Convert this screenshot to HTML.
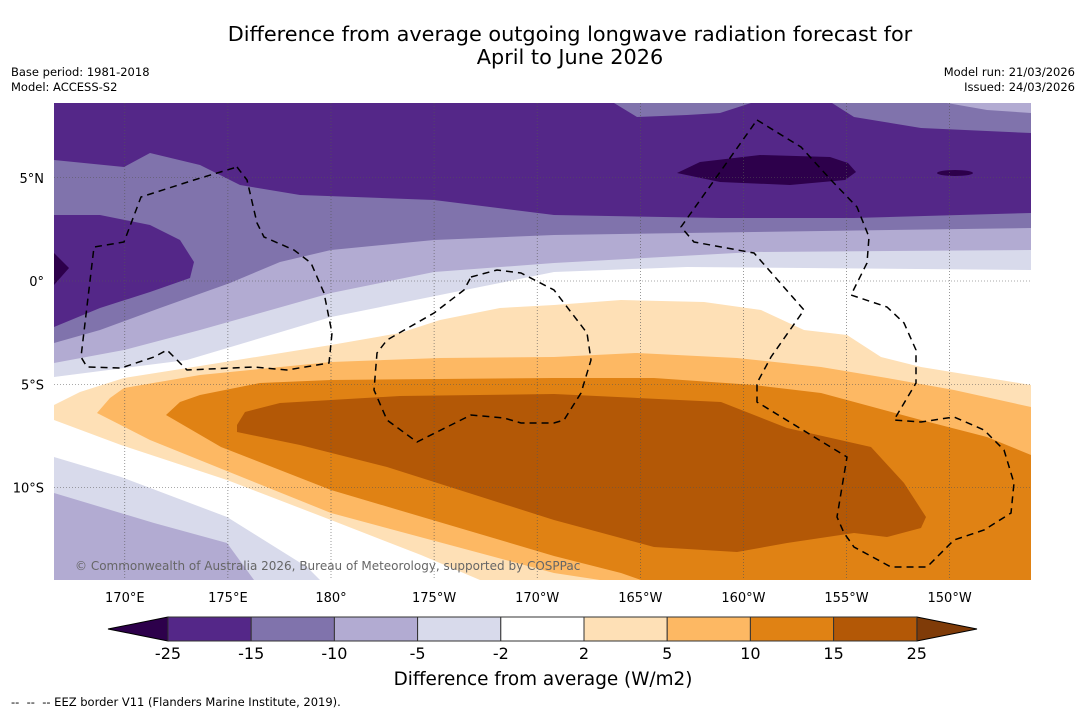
<!DOCTYPE html>
<html><head><meta charset="utf-8"><style>
body{margin:0;background:#fff;width:1085px;height:713px;overflow:hidden;font-family:"DejaVu Sans","Liberation Sans",sans-serif;}
svg{display:block}
</style></head><body>
<svg width="1085" height="713" xmlns="http://www.w3.org/2000/svg" font-family="DejaVu Sans, Liberation Sans, sans-serif">
<rect width="1085" height="713" fill="#fff"/>
<text x="570" y="41" font-size="20.8" text-anchor="middle">Difference from average outgoing longwave radiation forecast for</text>
<text x="570" y="64" font-size="20.8" text-anchor="middle">April to June 2026</text>
<text x="11" y="76" font-size="11.5">Base period: 1981-2018</text>
<text x="11" y="91" font-size="11.5">Model: ACCESS-S2</text>
<text x="1075" y="76" font-size="11.5" text-anchor="end">Model run: 21/03/2026</text>
<text x="1075" y="91" font-size="11.5" text-anchor="end">Issued: 24/03/2026</text>
<defs><clipPath id="mc"><rect x="54" y="103" width="977" height="477"/></clipPath></defs>
<g clip-path="url(#mc)">
<rect x="54" y="103" width="977" height="477" fill="#fff"/>
<polygon fill="#d8daeb" points="54,103 1031,103 1031,270 687,267 554,272 331,317 187,360 54,377"/>
<polygon fill="#b2abd2" points="54,103 1031,103 1031,250 754,252 554,263 434,272 331,293 200,330 124,350 54,363"/>
<polygon fill="#8073ac" points="54,103 1031,103 1031,228 754,232 554,235 434,240 331,250 280,262 230,283 160,308 100,330 54,343"/>
<polygon fill="#542788" points="54,103 1031,103 1031,213 854,218 721,218 554,215 434,200 300,195 240,185 200,165 150,153 124,167 54,160"/>
<polygon fill="#8073ac" points="614,103 751,103 720,113 687,115 637,117"/>
<polygon fill="#8073ac" points="832,103 1031,103 1031,133 921,128 854,117"/>
<polygon fill="#b2abd2" points="947,103 1031,103 1031,113 987,110"/>
<polygon fill="#542788" points="54,215 100,215 150,225 180,240 194,262 190,278 150,292 100,308 54,327"/>
<polygon fill="#2d004b" points="677,173 700,162 760,155 830,157 848,163 856,172 845,180 790,185 720,182"/>
<ellipse cx="955" cy="173" rx="18" ry="3" fill="#2d004b"/>
<polygon fill="#2d004b" points="54,253 69,268 54,285"/>
<polygon fill="#d8daeb" points="54,457 121,477 227,517 307,567 320,580 54,580"/>
<polygon fill="#b2abd2" points="54,493 154,523 227,543 254,580 54,580"/>
<polygon fill="#fee0b6" points="54,405 80,392 124,378 200,366 331,345 400,333 440,320 500,308 554,305 621,300 704,302 761,310 804,330 847,335 881,357 921,367 1031,385 1031,580 480,580 421,555 331,520 227,480 121,445 54,420"/>
<polygon fill="#fdb863" points="97,413 110,398 124,388 200,375 331,362 440,358 554,357 637,353 737,358 821,367 887,378 954,390 1031,407 1031,580 600,580 554,573 331,513 150,440"/>
<polygon fill="#e08214" points="166,415 180,402 200,395 260,383 331,380 554,378 654,378 754,385 821,393 921,420 987,437 1031,455 1031,580 641,580 621,573 554,556 331,490 221,447"/>
<polygon fill="#b35806" points="237,425 245,412 280,403 400,396 554,394 721,402 787,428 871,447 904,483 926,517 921,528 887,537 854,533 787,543 737,552 654,547 554,520 387,467 300,445 237,432"/>
<g stroke="#555" stroke-width="0.6" stroke-dasharray="1,2" id="grid"></g>
<g fill="none" stroke="#000" stroke-width="1.5" stroke-dasharray="7,5">
<polyline points="237,167 247,180 257,223 264,237 294,250 311,263 324,293 332,333 329,363 287,370 254,367 187,370 167,350 154,357 121,368 87,367 81,357 94,247 124,242 141,197 194,180 237,167"/>
<polyline points="471,277 497,270 521,273 554,290 587,333 591,360 581,393 564,420 554,423 521,423 504,418 471,415 417,442 387,420 374,390 377,353 387,340 434,313 464,290 471,277"/>
<polyline points="757,120 801,147 831,180 857,207 869,237 867,263 851,295 887,307 904,323 916,350 916,383 894,420 921,422 954,417 984,430 1004,450 1014,483 1011,513 984,530 954,540 927,567 891,567 854,547 844,533 837,517 847,457 757,402 757,383 771,357 804,310 754,253 694,242 681,227 757,120"/>
</g>
<text x="75" y="570" font-size="12" fill="#666">© Commonwealth of Australia 2026, Bureau of Meteorology, supported by COSPPac</text>
</g>
<g id="axislabels" font-size="13"></g>
<g id="cbar"></g>
<text x="543" y="685" font-size="18.4" text-anchor="middle">Difference from average (W/m2)</text>
<text x="11" y="706" font-size="11.5" xml:space="preserve">--  --  -- EEZ border V11 (Flanders Marine Institute, 2019).</text>
</svg>
<script>
const lonLabels=["170°E","175°E","180°","175°W","170°W","165°W","160°W","155°W","150°W"];
const lonValues=[170,175,180,185,190,195,200,205,210];
const latLabels=["5°N","0°","5°S","10°S"];
const latValues=[5,0,-5,-10];
const cbarLabels=["-25","-15","-10","-5","-2","2","5","10","15","25"];
const cbarColors=["#542788","#8073ac","#b2abd2","#d8daeb","#ffffff","#fee0b6","#fdb863","#e08214","#b35806"];
const ns="http://www.w3.org/2000/svg";
const xLon=l=>331+(l-180)*20.62;
const yLat=a=>281-a*20.65;
const grid=document.getElementById('grid'),ax=document.getElementById('axislabels'),cb=document.getElementById('cbar');
function mk(tag,at,parent){const e=document.createElementNS(ns,tag);for(const k in at)e.setAttribute(k,at[k]);parent.appendChild(e);return e;}
lonValues.forEach((v,i)=>{const x=xLon(v);
 const l=mk('line',{x1:x,x2:x,y1:103,y2:580},grid);
 
 
 const t=mk('text',{x:x,y:602,'text-anchor':'middle'},ax);t.textContent=lonLabels[i];
 
 });
latValues.forEach((v,i)=>{const y=yLat(v);
 const l=mk('line',{x1:54,x2:1031,y1:y,y2:y},grid);
 
 
 const t=mk('text',{x:44,y:y+5,'text-anchor':'end'},ax);t.textContent=latLabels[i];
 
 });
const cx0=168,cw=83.2,cy=617,ch=24;
const lt=mk('polygon',{points:`${cx0},${cy} ${cx0},${cy+ch} 108,${cy+ch/2}`,fill:'#2d004b',stroke:'#000','stroke-width':1},cb);


const re=cx0+cw*cbarColors.length;
const rt=mk('polygon',{points:`${re},${cy} ${re},${cy+ch} 977,${cy+ch/2}`,fill:'#7f3b08',stroke:'#000','stroke-width':1},cb);


cbarColors.forEach((c,i)=>{const r=mk('rect',{x:cx0+i*cw,y:cy,width:cw,height:ch,fill:c,stroke:'#333','stroke-width':1},cb);
 
 });
cbarLabels.forEach((s,i)=>{const t=mk('text',{x:cx0+i*cw,y:659,'text-anchor':'middle','font-size':16},cb);t.textContent=s;
 
 });
</script>
</body></html>
